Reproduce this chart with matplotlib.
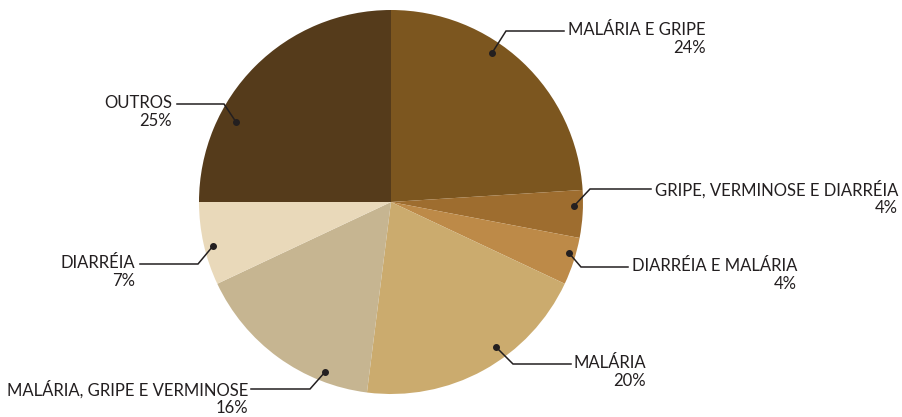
import matplotlib
matplotlib.use("Agg")
import matplotlib.pyplot as plt
import numpy as np

# dados do grafico
categorias = ["MALÁRIA E GRIPE", "GRIPE, VERMINOSE E DIARRÉIA", "DIARRÉIA E MALÁRIA",
              "MALÁRIA", "MALÁRIA, GRIPE E VERMINOSE", "DIARRÉIA", "OUTROS"]
percentuais = [24, 4, 4, 20, 16, 7, 25]
cores = ["#7c561f", "#9e6d2f", "#bd8a48", "#cbab6e", "#c6b591", "#e9d9ba", "#553b1b"]

# posicoes das chamadas (ponto, cotovelo, fim da linha, texto) em pixels, y para baixo
pontos = [(492, 53), (574, 206), (569, 253), (496, 347), (325, 372), (213, 246), (236, 122)]
cotovelos = [(506, 31), (590, 189), (581, 267), (513, 364), (310, 389), (198, 264), (224, 104)]
fim_linha = [564, 651, 628, 571, 251, 140, 177]
texto_x = [706, 898, 797, 646, 248, 135, 172]

W, H = 902, 417
fig = plt.figure(figsize=(W / 100, H / 100), dpi=100)
ax = fig.add_axes([0, 0, 1, 1])

centro = (391, H - 202)
ax.pie(percentuais, colors=cores, startangle=90, counterclock=False,
       center=centro, radius=192, frame=True,
       wedgeprops=dict(linewidth=0))
ax.set_xlim(0, W)
ax.set_ylim(0, H)
ax.set_aspect("equal")
ax.axis("off")

cor_txt = "#231f20"
for i, nome in enumerate(categorias):
    px, py = pontos[i]
    cx, cy = cotovelos[i]
    fx = fim_linha[i]
    ax.plot([px, cx, fx], [H - py, H - cy, H - cy], color=cor_txt, lw=1.1,
            solid_joinstyle="miter")
    ax.plot(px, H - py, "o", color=cor_txt, ms=4)
    # primeira linha centrada na linha de chamada
    ax.text(texto_x[i], H - cy + 9, nome + "\n" + str(percentuais[i]) + "%",
            ha="right", va="top", fontsize=12, color=cor_txt, family="Lato",
            linespacing=1.12)

fig.savefig("out.png", dpi=100)
